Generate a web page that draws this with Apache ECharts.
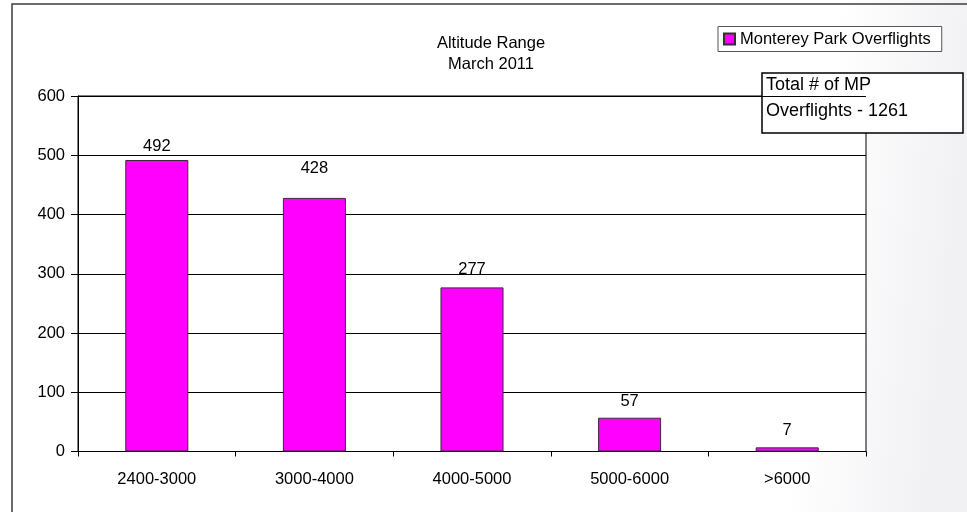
<!DOCTYPE html>
<html>
<head>
<meta charset="utf-8">
<script src="https://cdn.jsdelivr.net/npm/echarts@6/dist/echarts.min.js"></script>
<style>
  html, body { margin: 0; padding: 0; background: #ffffff; }
  #chart { width: 967px; height: 512px; }
</style>
</head>
<body>
<div id="chart"></div>
<script>
// ---- data ----
const categories = ['2400-3000', '3000-4000', '4000-5000', '5000-6000', '>6000'];
const overflights = [492, 428, 277, 57, 7];
const seriesName = 'Monterey Park Overflights';
const titleLines = ['Altitude Range', 'March 2011'];
const noteLines = ['Total # of MP', 'Overflights - 1261'];
const yTicks = { min: 0, max: 600, interval: 100 };

// ---- style (label distances above bars) ----
const labelDistances = [5, 21, 9, 8, 8];

const FONT = 'Arial, "Liberation Sans", sans-serif';
const chart = echarts.init(document.getElementById('chart'), null, { renderer: 'canvas' });

const option = {
  animation: false,
  backgroundColor: {
    type: 'linear', x: 0, y: 0, x2: 1, y2: 0.2,
    colorStops: [
      { offset: 0, color: '#ffffff' },
      { offset: 0.86, color: '#ffffff' },
      { offset: 1, color: '#f1f1f4' }
    ]
  },
  textStyle: { fontFamily: FONT },
  grid: {
    left: 78, right: 101, top: 96, bottom: 60.5,
    show: true, borderColor: '#000', borderWidth: 1, backgroundColor: '#ffffff'
  },
  legend: {
    data: [seriesName],
    left: 718, top: 26.5,
    padding: [4, 11, 4, 5],
    itemWidth: 11, itemHeight: 11,
    icon: 'rect',
    borderColor: '#555', borderWidth: 1,
    backgroundColor: '#ffffff',
    textStyle: { color: '#000', fontSize: 16.5, fontFamily: FONT, padding: [0, 0, 0, 0] }
  },
  xAxis: {
    type: 'category',
    data: categories,
    axisLine: { lineStyle: { color: '#000', width: 1 } },
    axisTick: { show: true, length: 5, lineStyle: { color: '#000' } },
    axisLabel: { color: '#000', fontSize: 16.5, margin: 19, fontFamily: FONT },
    splitLine: { show: false }
  },
  yAxis: {
    type: 'value',
    min: yTicks.min, max: yTicks.max, interval: yTicks.interval,
    axisLine: { show: true, lineStyle: { color: '#000', width: 1 } },
    axisTick: { show: true, length: 7, lineStyle: { color: '#000' } },
    axisLabel: { color: '#000', fontSize: 16.5, margin: 13, fontFamily: FONT },
    splitLine: { show: true, lineStyle: { color: '#000', width: 1 } }
  },
  series: [{
    name: seriesName,
    type: 'bar',
    barWidth: '40%',
    data: overflights.map((v, i) => ({
      value: v,
      label: { distance: labelDistances[i] }
    })),
    itemStyle: { color: '#ff00ff', borderColor: '#3a2a3a', borderWidth: 1 },
    label: {
      show: true, position: 'top', color: '#000', fontSize: 16.5, fontFamily: FONT
    }
  }],
  graphic: [
    // outer chart frame (left and top edges)
    { type: 'polyline', z: 100, silent: true,
      shape: { points: [[12, 512], [12, 4], [967, 4]] },
      style: { stroke: '#3c3c3c', lineWidth: 1.5, fill: null } },
    // chart title
    { type: 'text', z: 100, x: 491, y: 33,
      style: { text: titleLines.join('\n'), fill: '#000', font: '16.5px ' + FONT,
               textAlign: 'center', lineHeight: 21 } },
    // note box
    { type: 'group', z: 100, x: 762, y: 73,
      children: [
        { type: 'rect', shape: { x: 0, y: 0, width: 201, height: 60 },
          style: { fill: '#fff', stroke: '#000', lineWidth: 1.5 } },
        { type: 'text', x: 4, y: -1,
          style: { text: noteLines.join('\n'), fill: '#000', font: '18px ' + FONT,
                   lineHeight: 26 } }
      ] }
  ]
};
chart.setOption(option);
</script>
</body>
</html>
